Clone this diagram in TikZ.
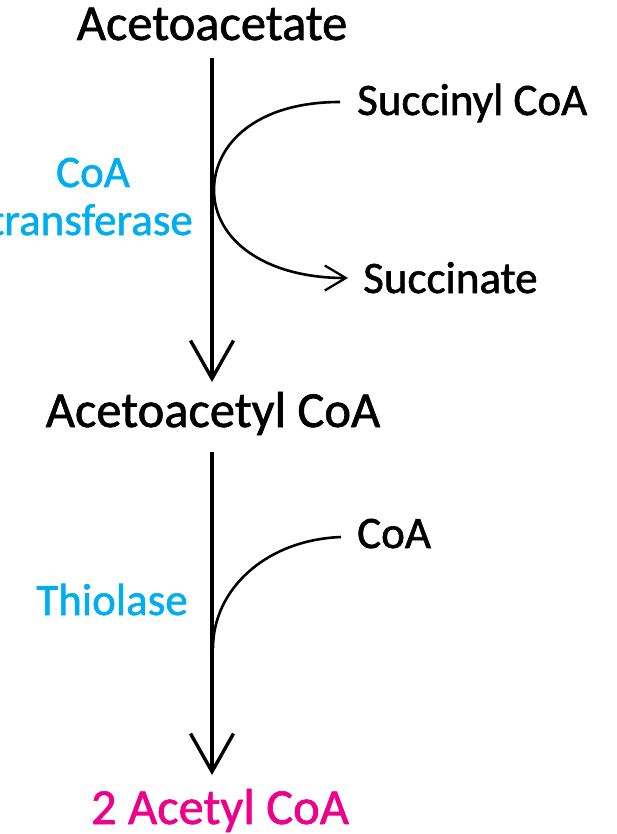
\documentclass[tikz,border=0pt]{standalone}
\usepackage{fontspec}
\setmainfont{Carlito}[RawFeature={embolden=1.3}]
\usetikzlibrary{arrows.meta}
\definecolor{enzcyan}{RGB}{0,174,239}
\definecolor{prodmag}{RGB}{236,0,140}
\begin{document}
\begin{tikzpicture}[x=1pt,y=-1pt,
  mainlbl/.style={font=\fontsize{50.5}{56}\selectfont, inner sep=0pt, anchor=base},
  sidelbl/.style={font=\fontsize{45}{50}\selectfont, inner sep=0pt},
  enzlbl/.style={font=\fontsize{45}{50}\selectfont, inner sep=0pt, text=enzcyan},
  mainarrow/.style={line width=4.6pt, -{Straight Barb[length=38pt,width=43pt,line width=3.4pt]}},
  sidecurve/.style={line width=2.6pt},
  sidearrow/.style={line width=2.6pt, -{Straight Barb[length=21pt,width=25pt,line width=2.3pt]}}]
\useasboundingbox (0,0) rectangle (617,834);
% metabolites
\node[mainlbl] (aa) at (212,40) {Acetoacetate};
\node[mainlbl] (aac) at (213,427) {Acetoacetyl CoA};
\node[mainlbl, text=prodmag] (acoa) at (220,824) {2 Acetyl CoA};
% side substrates
\node[sidelbl, anchor=base west] (succ) at (357,115) {Succinyl CoA};
\node[sidelbl, anchor=base west] (sucn) at (363,293) {Succinate};
\node[sidelbl, anchor=base west] (coa) at (357,548) {CoA};
% enzymes
\node[enzlbl, anchor=base east] (tr) at (193,235) {transferase};
\node[enzlbl, anchor=base] (co) at (93,187) {CoA};
\node[enzlbl, anchor=base east] (thio) at (188,615) {Thiolase};
% anchor points
\coordinate (s1) at (212,58);
\coordinate (e1) at (212,382);
\coordinate (s2) at (212,452);
\coordinate (e2) at (212,775);
\coordinate (j1) at (214,190);
\coordinate (j2) at (213,648);
\coordinate (c1s) at (340,102);
\coordinate (c1e) at (348,278);
\coordinate (c2s) at (341,537);
% main arrows
\draw[mainarrow] (s1) -- (e1);
\draw[mainarrow] (s2) -- (e2);
% side curves
\draw[sidearrow] (c1s) .. controls (255,102) and (214,145) .. (j1)
  .. controls (214,240) and (265,278) .. (c1e);
\draw[sidecurve] (c2s) .. controls (265,540) and (213,590) .. (j2);
\end{tikzpicture}
\end{document}
